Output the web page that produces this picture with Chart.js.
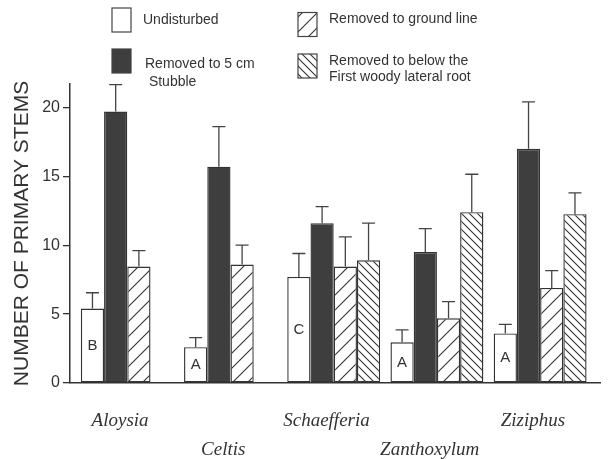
<!DOCTYPE html>
<html>
<head>
<meta charset="utf-8">
<script src="https://cdn.jsdelivr.net/npm/chart.js@4"></script>
<style>
  body { margin: 0; background: #fff; }
  canvas { display: block; }
</style>
</head>
<body>
<canvas id="stemsChart" width="608" height="459"></canvas>
<script>
// species along the x axis
const species = ['Aloysia', 'Celtis', 'Schaefferia', 'Zanthoxylum', 'Ziziphus'];
// significance letters shown inside the undisturbed bars
const letters = ['B', 'A', 'C', 'A', 'A'];
const yTicks = [0, 5, 10, 15, 20];

// mean number of primary stems, and top of the error bar
const undisturbed = [5.4, 2.6, 7.7, 2.95, 3.6];
const undisturbedErr = [6.55, 3.3, 9.4, 3.85, 4.25];
const stubble = [19.7, 15.7, 11.6, 9.5, 17.0];
const stubbleErr = [21.65, 18.6, 12.8, 11.2, 20.4];
const groundLine = [8.45, 8.6, 8.45, 4.7, 6.9];
const groundLineErr = [9.6, 10.0, 10.6, 5.9, 8.15];
const belowRoot = [null, null, 8.9, 12.4, 12.25];
const belowRootErr = [null, null, 11.6, 15.15, 13.8];

const ink = '#333';

function hatch(dir, gap) {
    const c = document.createElement('canvas');
    c.width = gap;
    c.height = gap;
    const g = c.getContext('2d');
    g.fillStyle = '#fff';
    g.fillRect(0, 0, gap, gap);
    g.strokeStyle = ink;
    g.lineWidth = 1.1;
    g.beginPath();
    if (dir === '/') {
        g.moveTo(0, gap); g.lineTo(gap, 0);
        g.moveTo(-1, 1); g.lineTo(1, -1);
        g.moveTo(gap - 1, gap + 1); g.lineTo(gap + 1, gap - 1);
    } else {
        g.moveTo(0, 0); g.lineTo(gap, gap);
        g.moveTo(gap - 1, -1); g.lineTo(gap + 1, 1);
        g.moveTo(-1, gap - 1); g.lineTo(1, gap + 1);
    }
    g.stroke();
    return document.createElement('canvas').getContext('2d').createPattern(c, 'repeat');
}

const slashFill = hatch('/', 15);
const backFill = hatch('\\', 8);
const darkFill = '#3e3e3e';

const toPoints = arr => arr.map((v, i) => ({ x: i, y: v }));
const errTops = [undisturbedErr, stubbleErr, groundLineErr, belowRootErr];

const errorBars = {
    id: 'errorBars',
    afterDatasetsDraw(chart) {
        const ctx = chart.ctx;
        const y = chart.scales.y;
        ctx.save();
        ctx.strokeStyle = '#444';
        ctx.lineWidth = 1.3;
        errTops.forEach((tops, di) => {
            chart.getDatasetMeta(di).data.forEach((bar, i) => {
                if (tops[i] == null) return;
                const top = y.getPixelForValue(tops[i]);
                ctx.beginPath();
                ctx.moveTo(bar.x, bar.y);
                ctx.lineTo(bar.x, top);
                ctx.moveTo(bar.x - 6.5, top);
                ctx.lineTo(bar.x + 6.5, top);
                ctx.stroke();
            });
        });
        // letters inside the undisturbed bars
        ctx.fillStyle = ink;
        ctx.font = '15px "Liberation Sans", Arial, sans-serif';
        ctx.textAlign = 'center';
        ctx.textBaseline = 'middle';
        chart.getDatasetMeta(0).data.forEach((bar, i) => {
            ctx.fillText(letters[i], bar.x, y.getPixelForValue(undisturbed[i] / 2));
        });
        ctx.restore();
    }
};

const legendBoxes = {
    id: 'legendBoxes',
    afterDraw(chart) {
        const ctx = chart.ctx;
        const items = [
            { x: 112, y: 8, fill: '#fff', text: ['Undisturbed'], tx: 143, ty: [20] },
            { x: 112, y: 49, fill: darkFill, text: ['Removed to 5 cm', ' Stubble'], tx: 145, ty: [64, 82] },
            { x: 298, y: 12.5, fill: slashFill, text: ['Removed to ground line'], tx: 329, ty: [19.5] },
            { x: 298, y: 54, fill: backFill, text: ['Removed to below the', 'First woody lateral root'], tx: 329, ty: [61, 77] }
        ];
        ctx.save();
        ctx.font = '14px "Liberation Sans", Arial, sans-serif';
        ctx.textBaseline = 'middle';
        ctx.textAlign = 'left';
        items.forEach(it => {
            ctx.fillStyle = it.fill;
            ctx.fillRect(it.x, it.y, 19, 24);
            ctx.strokeStyle = '#444';
            ctx.lineWidth = 1.2;
            ctx.strokeRect(it.x, it.y, 19, 24);
            ctx.fillStyle = ink;
            it.text.forEach((t, k) => ctx.fillText(t, it.tx, it.ty[k]));
        });
        ctx.restore();
    }
};

const barStyle = { borderColor: ink, borderWidth: 1.4, borderSkipped: false };

new Chart(document.getElementById('stemsChart'), {
    type: 'bar',
    data: {
        datasets: [
            Object.assign({ label: 'Undisturbed', data: toPoints(undisturbed), backgroundColor: '#fff' }, barStyle),
            Object.assign({ label: 'Removed to 5 cm Stubble', data: toPoints(stubble), backgroundColor: darkFill }, barStyle),
            Object.assign({ label: 'Removed to ground line', data: toPoints(groundLine), backgroundColor: slashFill }, barStyle),
            Object.assign({ label: 'Removed to below the First woody lateral root', data: toPoints(belowRoot), backgroundColor: backFill }, barStyle)
        ]
    },
    options: {
        responsive: false,
        animation: false,
        events: [],
        categoryPercentage: 0.9,
        barPercentage: 1,
        layout: { padding: { top: 84, right: 8, left: 0, bottom: 0 } },
        plugins: {
            legend: { display: false },
            tooltip: { enabled: false }
        },
        scales: {
            x: {
                type: 'linear',
                offset: false,
                min: -0.555,
                max: 4.58,
                grid: { display: false },
                border: { display: true, color: ink, width: 1.5 },
                // species names sit slightly left of their group centres
                afterBuildTicks: s => { s.ticks = species.map((_, i) => ({ value: i - 0.07 })); },
                afterFit: s => { s.height = 76; },
                ticks: {
                    autoSkip: false,
                    maxRotation: 0,
                    padding: 16,
                    color: ink,
                    font: { family: '"Liberation Serif", "Times New Roman", serif', style: 'italic', size: 19, lineHeight: 1.5 },
                    callback: (v, i) => (i % 2 === 0 ? [species[i]] : ['', species[i]])
                }
            },
            y: {
                min: 0,
                max: 21.7,
                afterBuildTicks: s => { s.ticks = yTicks.map(v => ({ value: v })); },
                afterFit: s => { s.width = 70; },
                grid: { drawOnChartArea: false, drawTicks: true, tickLength: 7, color: ink, lineWidth: 1.3 },
                border: { display: true, color: ink, width: 1.5 },
                ticks: {
                    padding: 3,
                    color: ink,
                    font: { family: '"Liberation Sans", Arial, sans-serif', size: 16 }
                },
                title: {
                    display: true,
                    text: 'NUMBER OF PRIMARY STEMS',
                    color: ink,
                    padding: { top: 10, bottom: 0 },
                    font: { family: '"Liberation Sans", Arial, sans-serif', size: 21 }
                }
            }
        }
    },
    plugins: [errorBars, legendBoxes]
});
</script>
</body>
</html>
